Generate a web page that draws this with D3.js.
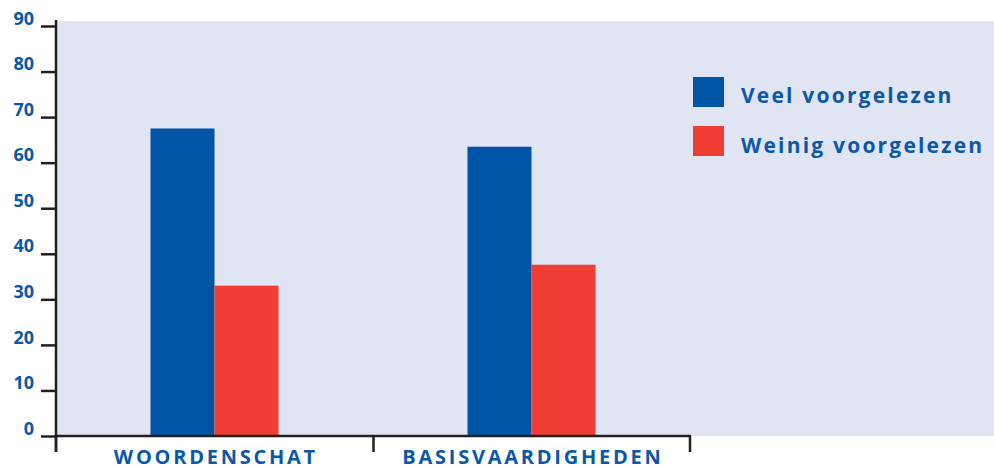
<!DOCTYPE html>
<html><head><meta charset="utf-8">
<script src="https://cdn.jsdelivr.net/npm/d3@7"></script>
<style>body{margin:0;background:#fff}svg{display:block}text{font-family:"Open Sans",sans-serif;font-weight:700;fill:#0a58a6}</style>
</head><body><svg id="c" width="994" height="466"></svg>
<script>
const categories = ["WOORDENSCHAT", "BASISVAARDIGHEDEN"];
const seriesNames = ["Veel voorgelezen", "Weinig voorgelezen"];
const veel = [67.5, 63.5];
const weinig = [33, 37.6];
const yTicks = [0, 10, 20, 30, 40, 50, 60, 70, 80, 90];
const colors = ["#0054a6", "#ef3e33"];

const svg = d3.select("#c");
const x0 = 56, x1 = 690, yTop = 26, yBot = 436;
const y = d3.scaleLinear().domain([0, 90]).range([yBot, yTop]);
const x = d3.scaleBand().domain(categories).range([x0, x1]);
const xs = d3.scaleBand().domain(seriesNames).range([0, 128]);

svg.append("rect").attr("x", 57).attr("y", 21).attr("width", 994 - 57).attr("height", yBot - 21).attr("fill", "#e1e4f3");

const data = categories.map((c, i) => ({c, vals: [veel[i], weinig[i]]}));
const g = svg.append("g");
data.forEach(d => {
  const cx = x(d.c) + x.bandwidth() / 2 - 64;
  d.vals.forEach((v, j) => {
    g.append("rect").attr("x", cx + xs(seriesNames[j])).attr("width", xs.bandwidth())
      .attr("y", y(v)).attr("height", y(0) - y(v)).attr("fill", colors[j]);
  });
});

// y axis
const ya = svg.append("g").attr("transform", `translate(${x0},0)`)
  .call(d3.axisLeft(y).tickValues(yTicks).tickSize(15).tickPadding(8));
ya.select(".domain").remove();
ya.selectAll(".tick line").attr("stroke", "#231f20").attr("stroke-width", 2.5);
ya.selectAll(".tick text").attr("dy", "-0.1em").attr("x", -22).style("font-size", "18px").attr("fill", "#0a58a6");
svg.append("line").attr("x1", x0).attr("x2", x0).attr("y1", 20).attr("y2", 452).attr("stroke", "#231f20").attr("stroke-width", 2.5);

// x axis
svg.append("line").attr("x1", x0).attr("x2", x1 + 1).attr("y1", yBot).attr("y2", yBot).attr("stroke", "#231f20").attr("stroke-width", 2.5);
const xa = svg.append("g").attr("transform", `translate(0,${yBot})`)
  .call(d3.axisBottom(x).tickSize(0).tickPadding(28));
xa.select(".domain").remove();
xa.selectAll(".tick text").attr("y", 27.5).attr("dy", "0").style("font-size", "20px").style("letter-spacing", "2.75px").attr("fill", "#0a58a6").attr("dx", "1.4px");
[x0, (x0 + x1) / 2 + 0.5, x1].forEach(px => {
  svg.append("line").attr("x1", px).attr("x2", px).attr("y1", yBot).attr("y2", 452).attr("stroke", "#231f20").attr("stroke-width", 2.5);
});

// legend
const lg = svg.append("g");
seriesNames.forEach((s, i) => {
  lg.append("rect").attr("x", 693).attr("y", 77 + i * 49).attr("width", 31).attr("height", 30).attr("fill", colors[i]);
  lg.append("text").attr("x", 741).attr("y", 103 + i * 50).text(s).style("font-size", "21px").style("letter-spacing", "2.2px");
});
</script></body></html>
